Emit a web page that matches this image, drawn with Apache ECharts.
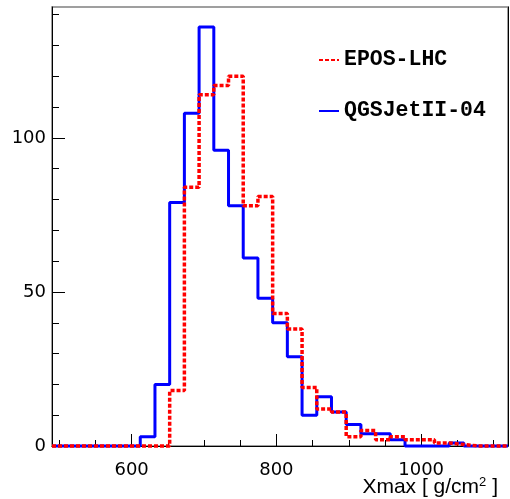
<!DOCTYPE html>
<html>
    <head>
        <meta charset="utf-8">
        <script src="https://cdn.jsdelivr.net/npm/echarts@6/dist/echarts.min.js"></script>
    </head>
    <body>
        <style>
            html, body, #main {
                width: 100%;
                height: 100%;
                margin: 0;
                background: #fff;
            }
        </style>
        <div id="main"></div>
        <script>
            // histogram range, 31 bins
            var xMin = 490;
            var xMax = 1120;

            var eposCounts = [
                0, 0, 0, 0, 0, 0, 0, 0, 18, 84,
                114, 117, 120, 78, 81, 43, 38, 19, 12, 11,
                3, 5, 2, 3, 2, 2, 1, 0.5, 0, 0, 0
            ];
            var qgsCounts = [
                0, 0, 0, 0, 0, 0, 3, 20, 79, 108,
                136, 96, 78, 61, 48, 40, 29, 10, 16, 11,
                7, 4, 4, 2, 0, 0, 0, 1, 0, 0, 0
            ];

            var xMajorTicks = [600, 800, 1000];
            var xMinorTicks = [500, 550, 650, 700, 750, 850, 900, 950, 1050, 1100];
            var yMajorTicks = [0, 50, 100];
            var yMinorTicks = [10, 20, 30, 40, 60, 70, 80, 90, 110, 120, 130, 140];

            // bin edges -> step points
            function stepData(counts) {
                var w = (xMax - xMin) / counts.length;
                var pts = counts.map(function (c, i) {
                    return [xMin + i * w, c];
                });
                pts.push([xMax, counts[counts.length - 1]]);
                return pts;
            }

            var chart = echarts.init(document.getElementById('main'));

            var black = '#000';
            var plain = function (v) { return String(v); };

            chart.setOption({
                animation: false,
                grid: {
                    left: 52,
                    right: 2,
                    top: 7,
                    bottom: 53,
                    containLabel: false,
                    outerBoundsMode: 'none',
                    show: true,
                    borderColor: '#808080',
                    borderWidth: 1.5
                },
                legend: {
                    orient: 'vertical',
                    left: 313,
                    top: 44,
                    itemWidth: 20,
                    itemHeight: 14,
                    itemGap: 29,
                    data: ['EPOS-LHC', 'QGSJetII-04'],
                    itemStyle: { opacity: 0 },
                    textStyle: {
                        fontFamily: 'Liberation Mono',
                        fontWeight: 'bold',
                        fontSize: 21.5,
                        lineHeight: 22,
                        color: black
                    }
                },
                // x axis title with superscript
                graphic: [{
                    type: 'text',
                    right: 12,
                    top: 476,
                    style: {
                        text: '{a|Xmax [ g/cm}{s|2}{a| ]}',
                        rich: {
                            a: {
                                fontFamily: 'Liberation Sans',
                                fontSize: 21,
                                lineHeight: 23,
                                fill: black
                            },
                            s: {
                                fontFamily: 'Liberation Sans',
                                fontSize: 13,
                                lineHeight: 13,
                                verticalAlign: 'top',
                                fill: black
                            }
                        }
                    }
                }],
                xAxis: [
                    {
                        type: 'value',
                        min: xMin,
                        max: xMax,
                        axisLine: { lineStyle: { color: black, width: 1 } },
                        axisTick: {
                            customValues: xMajorTicks,
                            inside: true,
                            length: 12,
                            lineStyle: { color: black }
                        },
                        axisLabel: {
                            customValues: xMajorTicks,
                            formatter: plain,
                            margin: 15,
                            fontFamily: 'DejaVu Sans',
                            fontSize: 18,
                            color: black
                        },
                        splitLine: { show: false }
                    },
                    {
                        type: 'value',
                        min: xMin,
                        max: xMax,
                        position: 'bottom',
                        axisLine: { show: false },
                        axisTick: {
                            customValues: xMinorTicks,
                            inside: true,
                            length: 6,
                            lineStyle: { color: black }
                        },
                        axisLabel: { show: false },
                        splitLine: { show: false }
                    }
                ],
                yAxis: [
                    {
                        type: 'value',
                        min: 0,
                        max: 142.5,
                        axisLine: { show: true, lineStyle: { color: black, width: 1 } },
                        axisTick: {
                            show: true,
                            customValues: yMajorTicks,
                            inside: true,
                            length: 13,
                            lineStyle: { color: black }
                        },
                        axisLabel: {
                            customValues: yMajorTicks,
                            formatter: plain,
                            margin: 6,
                            fontFamily: 'DejaVu Sans',
                            fontSize: 18,
                            color: black
                        },
                        splitLine: { show: false }
                    },
                    {
                        type: 'value',
                        min: 0,
                        max: 142.5,
                        position: 'left',
                        axisLine: { show: false },
                        axisTick: {
                            show: true,
                            customValues: yMinorTicks,
                            inside: true,
                            length: 7,
                            lineStyle: { color: black }
                        },
                        axisLabel: { show: false },
                        splitLine: { show: false }
                    },
                    {
                        type: 'value',
                        min: 0,
                        max: 142.5,
                        position: 'right',
                        axisLine: { show: true, lineStyle: { color: black, width: 1 } },
                        axisTick: { show: false },
                        axisLabel: { show: false },
                        splitLine: { show: false }
                    }
                ],
                series: [
                    {
                        name: 'QGSJetII-04',
                        type: 'line',
                        step: 'end',
                        symbol: 'none',
                        clip: false,
                        data: stepData(qgsCounts),
                        lineStyle: { color: '#0000ff', width: 3 },
                        itemStyle: { color: '#0000ff' }
                    },
                    {
                        name: 'EPOS-LHC',
                        type: 'line',
                        step: 'end',
                        symbol: 'none',
                        clip: false,
                        data: stepData(eposCounts),
                        lineStyle: { color: '#ff0000', width: 3.5, type: [4, 2] },
                        itemStyle: { color: '#ff0000' }
                    }
                ]
            });
        </script>
    </body>
</html>
